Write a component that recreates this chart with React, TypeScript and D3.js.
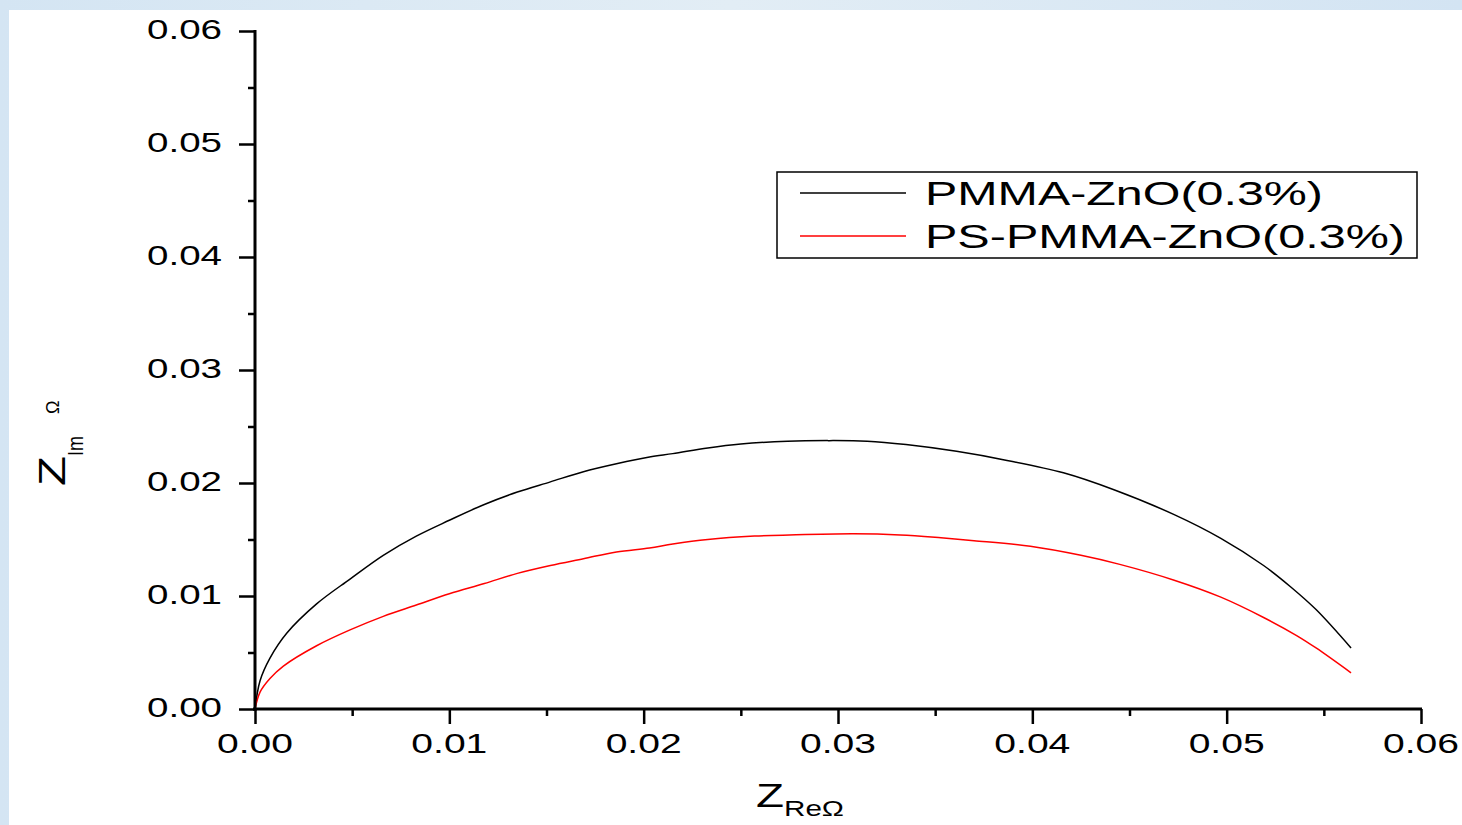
import React, { useRef, useEffect } from "react";
import * as d3 from "d3";

// PMMA-ZnO(0.3%) — black curve
const blackRe = [0, 0.00026, 0.00077, 0.00163, 0.00317, 0.00489, 0.0066, 0.0083, 0.01, 0.0118, 0.0135, 0.0152, 0.0169, 0.0186, 0.0203, 0.0215, 0.0233, 0.025, 0.0274, 0.0295, 0.0315, 0.0335, 0.0361, 0.0387, 0.0416, 0.0442, 0.0473, 0.0497, 0.0519, 0.0533, 0.0546, 0.0564];
const blackIm = [0, 0.0025, 0.0045, 0.0067, 0.0093, 0.0115, 0.0136, 0.0153, 0.0167, 0.0181, 0.0192, 0.0201, 0.021, 0.0217, 0.0223, 0.0226, 0.0231, 0.02345, 0.0237, 0.02375, 0.0237, 0.0234, 0.0228, 0.022, 0.0209, 0.0194, 0.0172, 0.0151, 0.0127, 0.0108, 0.0088, 0.0054];

// PS-PMMA-ZnO(0.3%) — red curve
const redRe = [0, 0.00026, 0.00077, 0.00146, 0.00317, 0.00489, 0.0066, 0.0083, 0.01, 0.0118, 0.0135, 0.0152, 0.0169, 0.0186, 0.0203, 0.0215, 0.0233, 0.0257, 0.0275, 0.0308, 0.0332, 0.0353, 0.037, 0.0399, 0.0425, 0.0445, 0.0473, 0.0497, 0.0519, 0.0536, 0.0546, 0.0564];
const redIm = [0, 0.0015, 0.0027, 0.0038, 0.0056, 0.007, 0.0082, 0.0092, 0.0102, 0.0111, 0.012, 0.0127, 0.0133, 0.0139, 0.01425, 0.0146, 0.015, 0.0153, 0.0154, 0.0155, 0.0154, 0.01515, 0.0149, 0.0144, 0.0136, 0.0128, 0.0114, 0.0099, 0.0081, 0.0065, 0.0054, 0.0032];

const seriesNames = ["PMMA-ZnO(0.3%)", "PS-PMMA-ZnO(0.3%)"];
const seriesColors = ["#000000", "#ff0000"];
const majorTicks = [0, 0.01, 0.02, 0.03, 0.04, 0.05, 0.06];
const minorTicks = [0.005, 0.015, 0.025, 0.035, 0.045, 0.055];

const W = 1462;
const H = 825;
const FONT = "'Liberation Sans', Arial, sans-serif";

const App = () => {
  const ref = useRef<SVGSVGElement>(null);

  useEffect(() => {
    const svg = d3.select(ref.current);
    svg.selectAll("*").remove();

    // light blue slide background with white plot card
    const defs = svg.append("defs");
    const grad = defs.append("linearGradient").attr("id", "bg").attr("x1", 0).attr("x2", 1).attr("y1", 0).attr("y2", 0);
    grad.append("stop").attr("offset", "0%").attr("stop-color", "#d4e5f3");
    grad.append("stop").attr("offset", "50%").attr("stop-color", "#e2edf5");
    grad.append("stop").attr("offset", "100%").attr("stop-color", "#d3e4f3");
    svg.append("rect").attr("width", W).attr("height", H).attr("fill", "url(#bg)");
    svg.append("rect").attr("x", 9).attr("y", 10).attr("width", W - 9).attr("height", H - 10).attr("fill", "#fff");

    const x = d3.scaleLinear().domain([0, 0.06]).range([255, 1421]);
    const y = d3.scaleLinear().domain([0, 0.06]).range([709, 31]);
    const fmt = d3.format(".2f");

    // curves
    const line = d3
      .line<[number, number]>()
      .x((d) => x(d[0]))
      .y((d) => y(d[1]))
      .curve(d3.curveCatmullRom.alpha(0.5));
    const series = [
      blackRe.map((v, i) => [v, blackIm[i]] as [number, number]),
      redRe.map((v, i) => [v, redIm[i]] as [number, number]),
    ];
    series.forEach((s, i) => {
      svg.append("path").attr("d", line(s)).attr("fill", "none").attr("stroke", seriesColors[i]).attr("stroke-width", 1.5);
    });

    // y axis
    const yAx = svg.append("g").attr("transform", "translate(255,0)");
    yAx.call(d3.axisLeft(y).tickValues(minorTicks).tickSize(7).tickFormat(() => ""));
    yAx.call((g) => g.append("g").call(d3.axisLeft(y).tickValues(majorTicks).tickSize(16).tickFormat(() => "")));
    yAx.selectAll(".domain").remove();
    yAx.selectAll("line").attr("stroke", "#000").attr("stroke-width", 2.5);
    yAx
      .selectAll("text.lbl")
      .data(majorTicks)
      .enter()
      .append("text")
      .attr("class", "lbl")
      .attr("x", -33)
      .attr("y", (d) => y(d) + 8)
      .attr("text-anchor", "end")
      .attr("fill", "#000")
      .attr("font-family", FONT)
      .attr("font-size", 28)
      .attr("textLength", 75)
      .attr("lengthAdjust", "spacingAndGlyphs")
      .text((d) => fmt(d));

    // x axis
    const xAx = svg.append("g").attr("transform", "translate(0,709)");
    xAx.call(d3.axisBottom(x).tickValues(minorTicks).tickSize(7).tickFormat(() => ""));
    xAx.call((g) => g.append("g").call(d3.axisBottom(x).tickValues(majorTicks).tickSize(15).tickFormat(() => "")));
    xAx.selectAll(".domain").remove();
    xAx.selectAll("line").attr("stroke", "#000").attr("stroke-width", 2.5);
    xAx
      .selectAll("text.lbl")
      .data(majorTicks)
      .enter()
      .append("text")
      .attr("class", "lbl")
      .attr("x", (d) => x(d))
      .attr("y", 44)
      .attr("text-anchor", "middle")
      .attr("fill", "#000")
      .attr("font-family", FONT)
      .attr("font-size", 28)
      .attr("textLength", 76)
      .attr("lengthAdjust", "spacingAndGlyphs")
      .text((d) => fmt(d));

    // axis lines
    svg.append("line").attr("x1", 255).attr("x2", 255).attr("y1", 30).attr("y2", 711).attr("stroke", "#000").attr("stroke-width", 3);
    svg.append("line").attr("x1", 253).attr("x2", 1422).attr("y1", 709).attr("y2", 709).attr("stroke", "#000").attr("stroke-width", 3);

    // x title
    const xt = svg.append("text").attr("x", 756).attr("y", 807).attr("font-family", FONT).attr("fill", "#000");
    xt.append("tspan").attr("font-size", 34).attr("textLength", 28).attr("lengthAdjust", "spacingAndGlyphs").text("Z");
    xt.append("tspan").attr("font-size", 22).attr("dy", 9).attr("textLength", 60).attr("lengthAdjust", "spacingAndGlyphs").text("ReΩ");

    // y title (rotated)
    const yt = svg.append("text").attr("transform", "translate(65,486) rotate(-90)").attr("font-family", FONT).attr("fill", "#000");
    yt.append("tspan").attr("font-size", 36).attr("textLength", 30).attr("lengthAdjust", "spacingAndGlyphs").text("Z");
    yt.append("tspan").attr("font-size", 22).attr("dy", 18).attr("textLength", 20).attr("lengthAdjust", "spacingAndGlyphs").text("Im");
    yt.append("tspan").attr("font-size", 18).attr("dx", 22).attr("dy", -24).text("Ω");

    // legend
    const lg = svg.append("g");
    lg.append("rect").attr("x", 777).attr("y", 172).attr("width", 640).attr("height", 86).attr("fill", "#fff").attr("stroke", "#000").attr("stroke-width", 1.5);
    const widths = [398, 480];
    seriesNames.forEach((name, i) => {
      const cy = 193 + i * 43;
      lg.append("line").attr("x1", 800).attr("x2", 906).attr("y1", cy).attr("y2", cy).attr("stroke", seriesColors[i]).attr("stroke-width", 1.5);
      lg.append("text")
        .attr("x", 925)
        .attr("y", cy + 12)
        .attr("font-family", FONT)
        .attr("font-size", 33)
        .attr("textLength", widths[i])
        .attr("lengthAdjust", "spacingAndGlyphs")
        .text(name);
    });
  }, []);

  return <svg ref={ref} width={W} height={H} style={{ position: "absolute", left: 0, top: 0 }}></svg>;
};

export default App;
